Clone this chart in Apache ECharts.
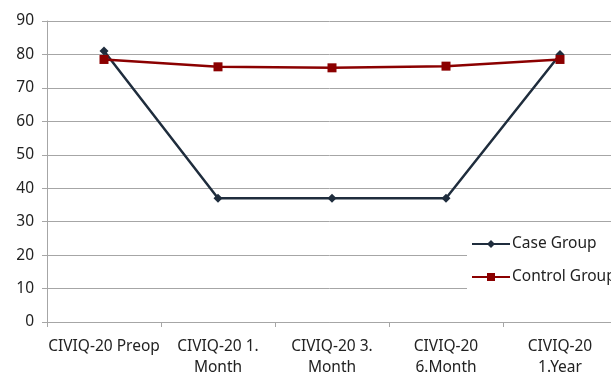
<!DOCTYPE html>
<html>
<head>
<meta charset="utf-8">
<script src="https://cdn.jsdelivr.net/npm/echarts@6/dist/echarts.min.js"></script>
<style>
  html, body { margin: 0; padding: 0; background: #fff; }
  #chart { width: 611px; height: 374px; }
</style>
</head>
<body>
<div id="chart"></div>
<script>
const categories = [
  "CIVIQ-20 Preop",
  "CIVIQ-20 1.\nMonth",
  "CIVIQ-20 3.\nMonth",
  "CIVIQ-20\n6.Month",
  "CIVIQ-20\n1.Year"
];
const caseGroup = [81, 37, 37, 37, 80];
const controlGroup = [78.5, 76.3, 76, 76.5, 78.5];

const font = "'Noto Sans', sans-serif";
const gridGrey = "#a6a6a6";

const chart = echarts.init(document.getElementById("chart"));

chart.setOption({
  animation: false,
  grid: {
    left: 47,
    top: 21,
    width: 570,
    bottom: 52,
    containLabel: false,
    outerBoundsMode: "none"
  },
  legend: {
    orient: "vertical",
    left: 467,
    top: 229,
    backgroundColor: "#fff",
    padding: [7, 30, 10, 4],
    itemWidth: 38,
    itemHeight: 10,
    itemGap: 17,
    textStyle: { fontFamily: font, fontSize: 15.5, color: "#222", lineHeight: 16, padding: [0, 0, 0, -3] },
    data: ["Case Group", "Control Group"]
  },
  xAxis: {
    type: "category",
    data: categories,
    boundaryGap: true,
    axisLine: { lineStyle: { color: gridGrey, width: 1 } },
    axisTick: { show: true, length: 5, lineStyle: { color: gridGrey } },
    axisLabel: {
      interval: 0,
      margin: 14,
      fontFamily: font,
      fontSize: 15.5,
      color: "#222",
      lineHeight: 21
    }
  },
  yAxis: {
    type: "value",
    min: 0,
    max: 90,
    interval: 10,
    axisLine: { show: true, lineStyle: { color: gridGrey, width: 1 } },
    axisTick: { show: true, length: 5, lineStyle: { color: gridGrey } },
    splitLine: { lineStyle: { color: gridGrey, width: 1 } },
    axisLabel: {
      margin: 13,
      fontFamily: font,
      fontSize: 15.5,
      color: "#222"
    }
  },
  series: [
    {
      name: "Case Group",
      type: "line",
      data: caseGroup,
      symbol: "diamond",
      symbolSize: 9,
      lineStyle: { color: "#1f2d3d", width: 2.5 },
      itemStyle: { color: "#1f2d3d" },
      z: 3
    },
    {
      name: "Control Group",
      type: "line",
      data: controlGroup,
      symbol: "rect",
      symbolSize: 9,
      lineStyle: { color: "#8b0000", width: 2.5 },
      itemStyle: { color: "#8b0000" },
      z: 4
    }
  ]
});
</script>
</body>
</html>
